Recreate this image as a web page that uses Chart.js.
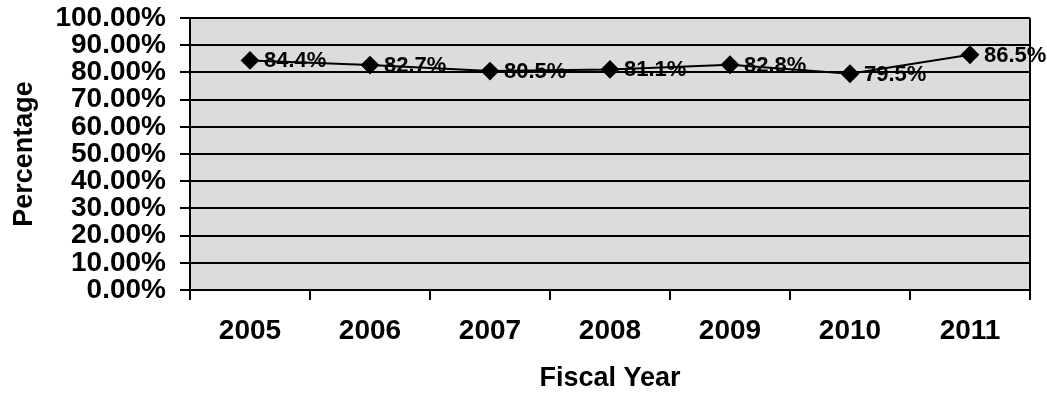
<!DOCTYPE html>
<html>
<head>
<meta charset="utf-8">
<script src="https://cdn.jsdelivr.net/npm/chart.js@4.4.1/dist/chart.umd.min.js"></script>
<style>
  html, body { margin: 0; padding: 0; background: #fff; }
  #wrap { width: 1047px; height: 397px; }
</style>
</head>
<body>
<div id="wrap"><canvas id="rateChart" width="1047" height="397"></canvas></div>
<script>
const years = ['2005', '2006', '2007', '2008', '2009', '2010', '2011'];
const rates = [84.4, 82.7, 80.5, 81.1, 82.8, 79.5, 86.5];
const yTicks = [0, 10, 20, 30, 40, 50, 60, 70, 80, 90, 100];

const ink = '#000000';
const fillGray = '#dcdcdc';
const fontFamily = '"Liberation Sans", Arial, sans-serif';

// gray plot background + right border
const plotBox = {
    id: 'plotBox',
    beforeDraw(chart) {
        const { ctx, chartArea: a } = chart;
        ctx.save();
        ctx.fillStyle = fillGray;
        ctx.fillRect(a.left, a.top, a.right - a.left, a.bottom - a.top);
        ctx.restore();
    },
    afterDraw(chart) {
        const { ctx, chartArea: a } = chart;
        ctx.save();
        ctx.strokeStyle = ink;
        ctx.lineWidth = 2;
        ctx.beginPath();
        ctx.moveTo(a.right, a.top);
        ctx.lineTo(a.right, a.bottom);
        ctx.stroke();
        ctx.restore();
    }
};

// value labels to the right of each marker
const valueLabels = {
    id: 'valueLabels',
    afterDatasetsDraw(chart) {
        const { ctx } = chart;
        const meta = chart.getDatasetMeta(0);
        ctx.save();
        ctx.fillStyle = ink;
        ctx.font = 'bold 22px ' + fontFamily;
        ctx.textAlign = 'left';
        ctx.textBaseline = 'middle';
        meta.data.forEach((pt, i) => {
            ctx.fillText(rates[i].toFixed(1) + '%', pt.x + 14, pt.y + 1);
        });
        ctx.restore();
    }
};

new Chart(document.getElementById('rateChart'), {
    type: 'line',
    data: {
        labels: years,
        datasets: [{
            data: rates,
            borderColor: ink,
            borderWidth: 2,
            backgroundColor: ink,
            pointStyle: 'rectRot',
            pointRadius: 8,
            pointBackgroundColor: ink,
            pointBorderColor: ink,
            tension: 0
        }]
    },
    options: {
        responsive: false,
        animation: false,
        layout: { padding: { top: 18, right: 17, left: 0, bottom: 0 } },
        plugins: {
            legend: { display: false },
            tooltip: { enabled: false }
        },
        scales: {
            x: {
                offset: true,
                grid: {
                    offset: true,
                    drawOnChartArea: false,
                    drawTicks: true,
                    tickLength: 10,
                    color: ink,
                    lineWidth: 2
                },
                border: { display: true, color: ink, width: 2 },
                ticks: {
                    color: ink,
                    padding: 14,
                    maxRotation: 0,
                    autoSkip: false,
                    font: { family: fontFamily, size: 28, weight: 'bold' }
                },
                title: {
                    display: true,
                    text: 'Fiscal Year',
                    color: ink,
                    padding: { top: 0, bottom: 2 },
                    font: { family: fontFamily, size: 27, weight: 'bold' }
                },
                afterFit(scale) { scale.height = 107; }
            },
            y: {
                min: 0,
                max: 100,
                afterBuildTicks(scale) {
                    scale.ticks = yTicks.map(v => ({ value: v }));
                },
                grid: {
                    color: ink,
                    lineWidth: 2,
                    drawTicks: true,
                    tickLength: 10
                },
                border: { display: true, color: ink, width: 2 },
                ticks: {
                    color: ink,
                    padding: 14,
                    autoSkip: false,
                    font: { family: fontFamily, size: 28, weight: 'bold', lineHeight: 0.6 },
                    callback: v => v.toFixed(2) + '%'
                },
                title: {
                    display: true,
                    text: 'Percentage',
                    color: ink,
                    padding: { top: 8, bottom: 0 },
                    font: { family: fontFamily, size: 27, weight: 'bold' }
                },
                afterFit(scale) {
                    scale.width = 190;
                    scale.paddingTop = 0;
                }
            }
        }
    },
    plugins: [plotBox, valueLabels]
});
</script>
</body>
</html>
